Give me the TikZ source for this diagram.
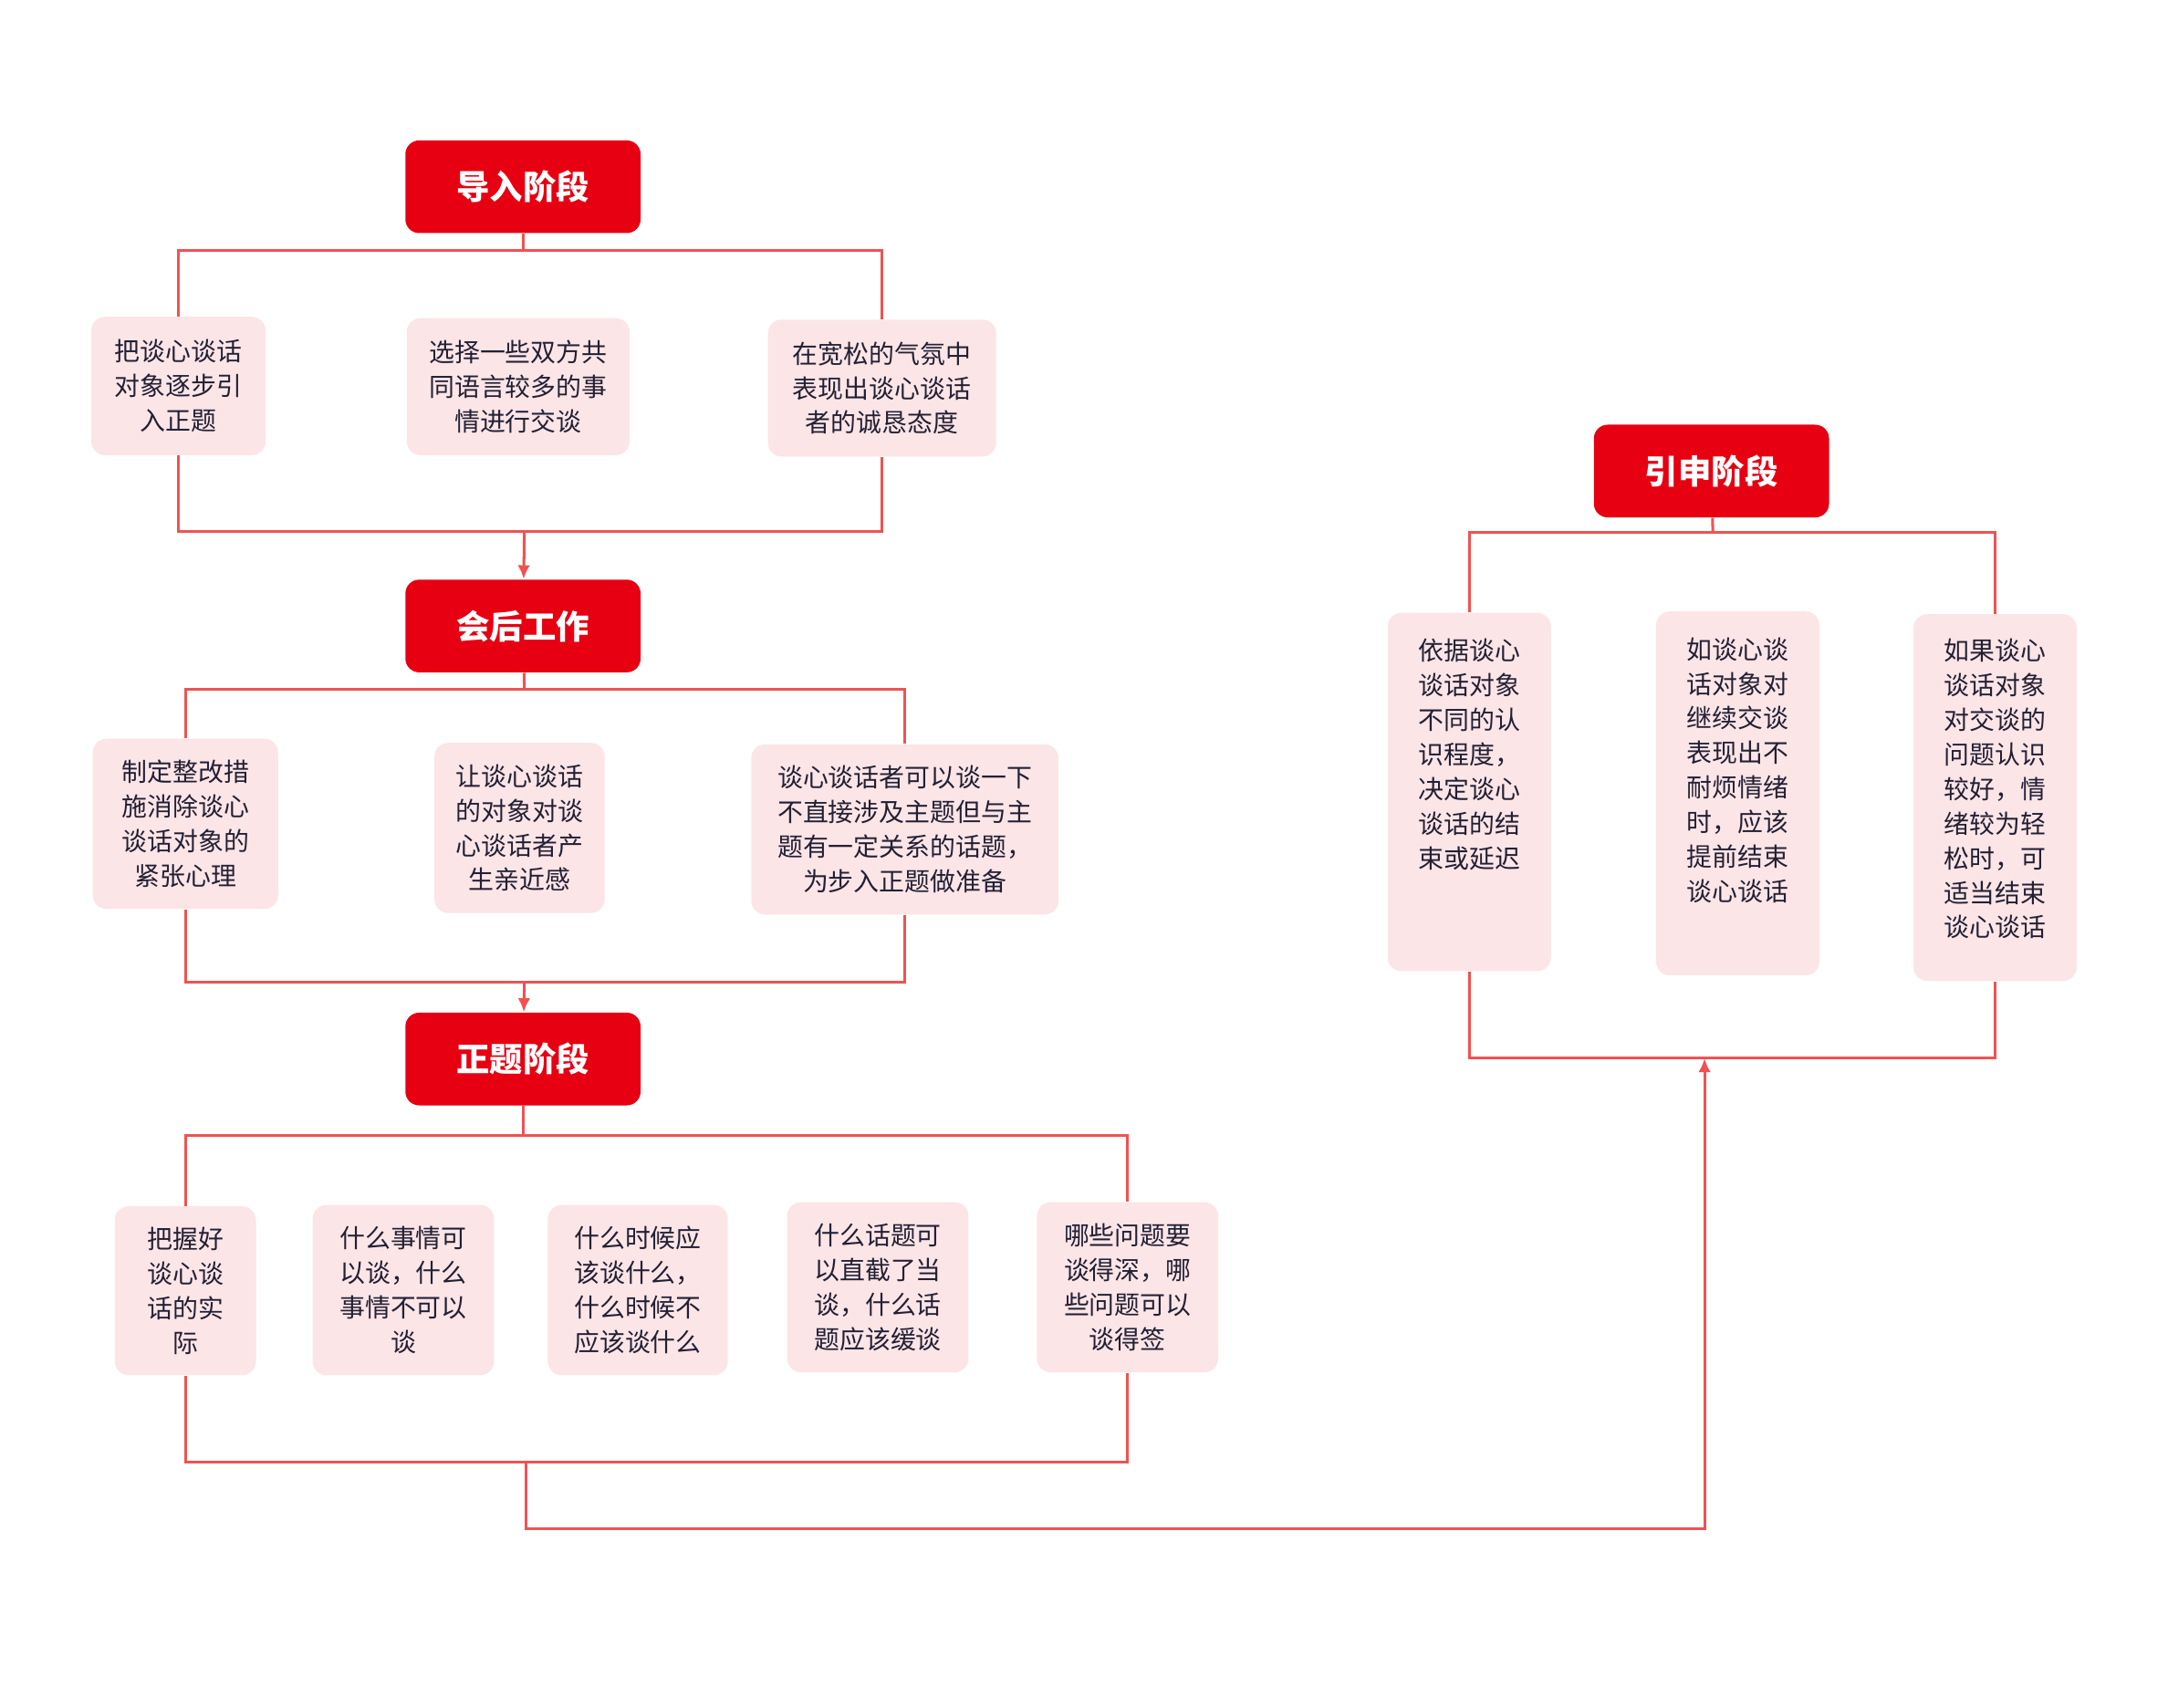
\documentclass[tikz,border=0pt]{standalone}
\usepackage{fontspec}
\setmainfont{Noto Sans CJK SC}
\usetikzlibrary{arrows.meta}
\definecolor{headRed}{RGB}{230,0,18}
\definecolor{boxPink}{RGB}{251,229,231}
\definecolor{lineRed}{RGB}{240,82,82}
\definecolor{textDark}{RGB}{35,32,52}
\begin{document}
\begin{tikzpicture}[x=0.5pt, y=-0.5pt,
		stageBox/.style={rectangle, rounded corners=5pt, fill=headRed, minimum width=85pt, minimum height=33.5pt, text=white, font=\fontsize{12}{14}\selectfont\bfseries},
		itemBox/.style={rectangle, rounded corners=5pt, fill=boxPink, inner sep=0pt, align=center, text=textDark, font=\fontsize{9.2}{12.5}\selectfont},
		tallBox/.style={rectangle, rounded corners=5pt, fill=boxPink, inner sep=0pt, text=textDark, font=\fontsize{9.2}{12.5}\selectfont},
		link/.style={draw=lineRed, line width=1pt},
		linkArrow/.style={link, -{Latex[length=5pt,width=4.5pt]}}]
			\path[fill=white] (0,0) rectangle (1567,1234.6);

			\node[stageBox](introBox) at (378,135){导入阶段};
			\node[itemBox, minimum width=63pt, minimum height=50pt](intro1Box) at (129,279){把谈心谈话\\对象逐步引\\入正题};
			\node[itemBox, minimum width=80.5pt, minimum height=49.5pt](intro2Box) at (374.5,279.5){选择一些双方共\\同语言较多的事\\情进行交谈};
			\node[itemBox, minimum width=82.5pt, minimum height=49.5pt](intro3Box) at (637.5,280.5){在宽松的气氛中\\表现出谈心谈话\\者的诚恳态度};

			\node[stageBox](afterBox) at (378,452.5){会后工作};
			\node[itemBox, minimum width=67pt, minimum height=61.5pt](after1Box) at (134,595.5){制定整改措\\施消除谈心\\谈话对象的\\紧张心理};
			\node[itemBox, minimum width=61.5pt, minimum height=61.5pt](after2Box) at (375.5,598.5){让谈心谈话\\的对象对谈\\心谈话者产\\生亲近感};
			\node[itemBox, minimum width=111pt, minimum height=61.5pt](after3Box) at (654,599.5){谈心谈话者可以谈一下\\不直接涉及主题但与主\\题有一定关系的话题，\\为步入正题做准备};

			\node[stageBox](mainBox) at (378,765.5){正题阶段};
			\node[itemBox, minimum width=51pt, minimum height=61pt](main1Box) at (134,933){把握好\\谈心谈\\话的实\\际};
			\node[itemBox, minimum width=65.5pt, minimum height=61.5pt](main2Box) at (291.5,932.5){什么事情可\\以谈，什么\\事情不可以\\谈};
			\node[itemBox, minimum width=65pt, minimum height=61.5pt](main3Box) at (461,932.5){什么时候应\\该谈什么，\\什么时候不\\应该谈什么};
			\node[itemBox, minimum width=65.5pt, minimum height=61.5pt](main4Box) at (634.5,930.5){什么话题可\\以直截了当\\谈，什么话\\题应该缓谈};
			\node[itemBox, minimum width=65.5pt, minimum height=61.5pt](main5Box) at (815,930.5){哪些问题要\\谈得深，哪\\些问题可以\\谈得签};

			\node[stageBox](extBox) at (1237,340.5){引申阶段};
			\node[tallBox](ext1Box) at (1062,572.5){\parbox[c][129.5pt][t]{59pt}{\centering\vspace*{9.4pt}依据谈心\\谈话对象\\不同的认\\识程度，\\决定谈心\\谈话的结\\束或延迟}};
			\node[tallBox](ext2Box) at (1256,573.5){\parbox[c][131.5pt][t]{59pt}{\centering\vspace*{9.4pt}如谈心谈\\话对象对\\继续交谈\\表现出不\\耐烦情绪\\时，应该\\提前结束\\谈心谈话}};
			\node[tallBox](ext3Box) at (1442,576.5){\parbox[c][132.5pt][t]{59pt}{\centering\vspace*{8.9pt}如果谈心\\谈话对象\\对交谈的\\问题认识\\较好，情\\绪较为轻\\松时，可\\适当结束\\谈心谈话}};

			\coordinate(introTop) at (378,181);
			\coordinate(introBot) at (379,384);
			\coordinate(afterTop) at (379,498);
			\coordinate(afterBot) at (379,710);
			\coordinate(mainTop) at (378,821);
			\coordinate(mainBot) at (380,1057);
			\coordinate(returnLow) at (380,1105);
			\coordinate(extTop) at (1238,385);
			\coordinate(extBot) at (1232,765);

			\draw[link] (introBox) -- (introTop);
			\draw[link] (intro1Box) |- (introTop) -| (intro3Box);
			\draw[link] (intro1Box) |- (introBot) -| (intro3Box);
			\draw[linkArrow] (introBot) -- (afterBox);

			\draw[link] (afterBox) -- (afterTop);
			\draw[link] (after1Box) |- (afterTop) -| (after3Box);
			\draw[link] (after1Box) |- (afterBot) -| (after3Box);
			\draw[linkArrow] (afterBot) -- (mainBox);

			\draw[link] (mainBox) -- (mainTop);
			\draw[link] (main1Box) |- (mainTop) -| (main5Box);
			\draw[link] (main1Box) |- (mainBot) -| (main5Box);
			\draw[linkArrow] (mainBot) -- (returnLow) -| (extBot);

			\draw[link] (extBox) -- (extTop);
			\draw[link] (ext1Box) |- (extTop) -| (ext3Box);
			\draw[link] (ext1Box) |- (extBot) -| (ext3Box);
		\end{tikzpicture}
\end{document}
